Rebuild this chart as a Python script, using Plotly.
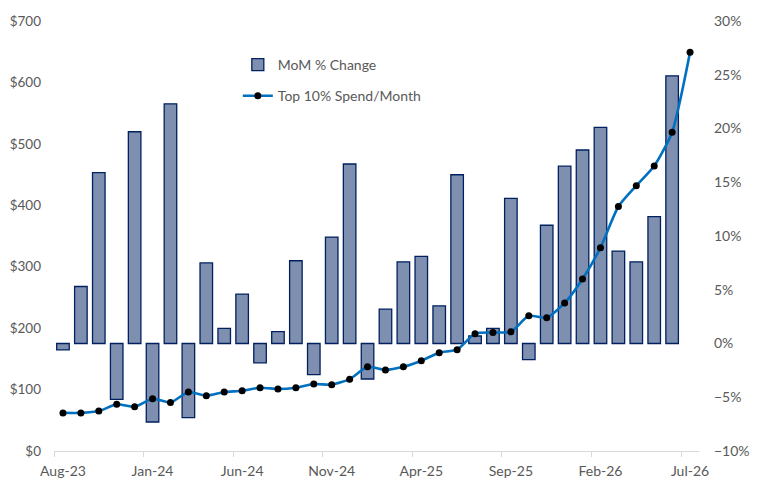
import plotly.graph_objects as go

months = ['Aug-23', 'Sep-23', 'Oct-23', 'Nov-23', 'Dec-23', 'Jan-24', 'Feb-24', 'Mar-24', 'Apr-24',
          'May-24', 'Jun-24', 'Jul-24', 'Aug-24', 'Sep-24', 'Oct-24', 'Nov-24', 'Dec-24', 'Jan-25',
          'Feb-25', 'Mar-25', 'Apr-25', 'May-25', 'Jun-25', 'Jul-25', 'Aug-25', 'Sep-25', 'Oct-25',
          'Nov-25', 'Dec-25', 'Jan-26', 'Feb-26', 'Mar-26', 'Apr-26', 'May-26', 'Jun-26', 'Jul-26']

# month over month change, %
mom_pct = [-0.6, 5.3, 15.9, -5.2, 19.7, -7.3, 22.3, -6.9, 7.5, 1.4, 4.6, -1.8, 1.1, 7.7, -2.9, 9.9,
           16.7, -3.3, 3.2, 7.6, 8.1, 3.5, 15.7, 0.7, 1.4, 13.5, -1.5, 11.0, 16.5, 18.0, 20.1, 8.6,
           7.6, 11.8, 24.9, None]

# top 10% spend per month, $
spend = [62, 62, 65, 76, 72, 85, 79, 96, 90, 96, 98, 103, 101, 103, 109, 108, 117, 137, 132, 137,
         147, 160, 165, 191, 193, 194, 220, 217, 241, 280, 331, 398, 432, 464, 519, 649]

txt = '#595959'
fnt = 'Lato, Open Sans, sans-serif'

fig = go.Figure()

fig.add_trace(go.Bar(
    x=months, y=mom_pct, name='MoM % Change', yaxis='y',
    marker=dict(color='rgba(0,32,96,0.5)', line=dict(color='#002060', width=1.3)),
    width=0.7, legendgroup='a'
))

fig.add_trace(go.Scatter(
    x=months, y=spend, name='Top 10% Spend/Month', yaxis='y2',
    mode='lines+markers',
    line=dict(color='#0070C0', width=2.6, shape='spline', smoothing=0.6),
    marker=dict(color='black', size=7),
    legendgroup='b'
))

# page body has an 8px margin, so the figure is a bit smaller and shifted
fig.update_layout(
    width=756, height=488,
    margin=dict(l=46, r=65, t=13, b=45),
    paper_bgcolor='white', plot_bgcolor='white',
    font=dict(family=fnt, size=14, color=txt),
    bargap=0.3,
    xaxis=dict(
        type='category', range=[-0.5, 35.5], dtick=5, tickson='boundaries',
        ticks='outside', ticklen=5, tickcolor='#D9D9D9', tickangle=0,
        showline=True, linecolor='#D9D9D9', linewidth=1,
        showgrid=False, zeroline=False, automargin=False,
        ticklabelstandoff=7
    ),
    yaxis=dict(
        side='right', range=[-10, 30], dtick=5, ticksuffix='%',
        showgrid=False, zeroline=False, showline=False,
        automargin=False, ticklabelstandoff=14
    ),
    yaxis2=dict(
        side='left', overlaying='y', range=[0, 700], dtick=100, tickprefix='$',
        showgrid=False, zeroline=False, showline=False,
        automargin=False, ticklabelstandoff=12, tickfont=dict(size=13.5)
    ),
    legend=dict(
        x=0.285, y=0.935, xanchor='left', yanchor='top',
        traceorder='grouped', tracegroupgap=10,
        bgcolor='rgba(0,0,0,0)', font=dict(size=14, color=txt)
    )
)

fig.write_html('out.html')
